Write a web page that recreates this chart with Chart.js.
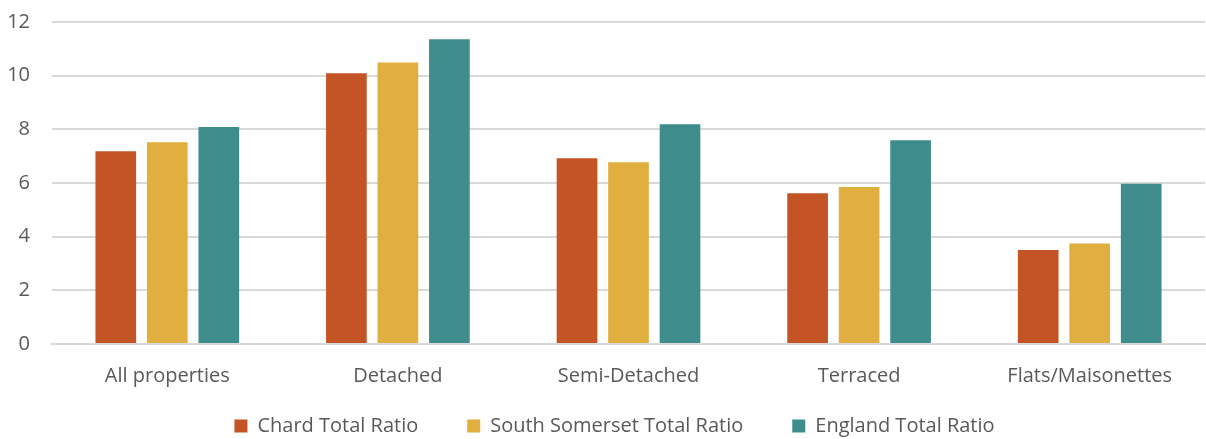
<!DOCTYPE html>
<html>
<head>
<meta charset="utf-8">
<script src="https://cdn.jsdelivr.net/npm/chart.js@4"></script>
<style>
html,body{margin:0;padding:0;background:#fff;}
#wrap{width:1206px;height:439px;}
</style>
</head>
<body>
<div id="wrap"><canvas id="c" width="1206" height="439"></canvas></div>
<script>
const categories = ["All properties", "Detached", "Semi-Detached", "Terraced", "Flats/Maisonettes"];
const chardRatio = [7.18, 10.09, 6.92, 5.62, 3.50];
const southSomersetRatio = [7.52, 10.49, 6.77, 5.85, 3.75];
const englandRatio = [8.09, 11.36, 8.19, 7.59, 5.97];
const yTicks = [0, 2, 4, 6, 8, 10, 12];

const FONT = "'Open Sans', 'Noto Sans', sans-serif";
const TXT = "#595959";
const X_AXIS_H = 44;
const LEGEND_H = 439 - 344 - X_AXIS_H;
const LEGEND_PAD = 49;
const LEGEND_CENTER_Y = 428;
const LEGEND_DX = 12;

const legendFit = {
  id: "legendFit",
  beforeInit(chart) {
    const lg = chart.legend;
    if (!lg) return;
    const origFit = lg.fit;
    lg.fit = function () { origFit.call(this); this.height = LEGEND_H; };
    const origDraw = lg._draw;
    lg._draw = function (...args) {
      const ctx = this.ctx;
      const ih = this._itemHeight || 24;
      const dy = LEGEND_CENTER_Y - (this.top + LEGEND_PAD + ih / 2);
      ctx.save();
      ctx.translate(LEGEND_DX, dy);
      origDraw.apply(this, args);
      ctx.restore();
    };
  }
};

new Chart(document.getElementById("c"), {
  type: "bar",
  data: {
    labels: categories,
    datasets: [
      { label: "Chard Total Ratio", data: chardRatio, backgroundColor: "#C45426" },
      { label: "South Somerset Total Ratio", data: southSomersetRatio, backgroundColor: "#E0AF40" },
      { label: "England Total Ratio", data: englandRatio, backgroundColor: "#3E8D8C" }
    ]
  },
  plugins: [legendFit],
  options: {
    responsive: false,
    animation: false,
    devicePixelRatio: 1,
    layout: { padding: { top: 0, right: 1, left: 0, bottom: 0 } },
    datasets: { bar: { categoryPercentage: 0.67, barPercentage: 0.79 } },
    scales: {
      x: {
        grid: { display: false, drawTicks: false },
        border: { display: true, color: "#D9D9D9", width: 2 },
        ticks: { color: TXT, font: { family: FONT, size: 20 }, padding: 20 },
        afterFit: (s) => { s.height = X_AXIS_H; }
      },
      y: {
        min: 0, max: 12,
        afterBuildTicks: (s) => { s.ticks = yTicks.map(v => ({ value: v })); },
        afterFit: (s) => { s.width = 52; s.paddingTop = 22; s.paddingBottom = 0; },
        grid: { color: "#D9D9D9", lineWidth: 2, drawTicks: false },
        border: { display: false },
        ticks: { color: TXT, font: { family: FONT, size: 20 }, padding: 22 }
      }
    },
    plugins: {
      legend: {
        position: "bottom",
        labels: {
          color: TXT, font: { family: FONT, size: 20 },
          boxWidth: 13, boxHeight: 13, padding: LEGEND_PAD
        }
      },
      tooltip: { enabled: false }
    }
  }
});
</script>
</body>
</html>
